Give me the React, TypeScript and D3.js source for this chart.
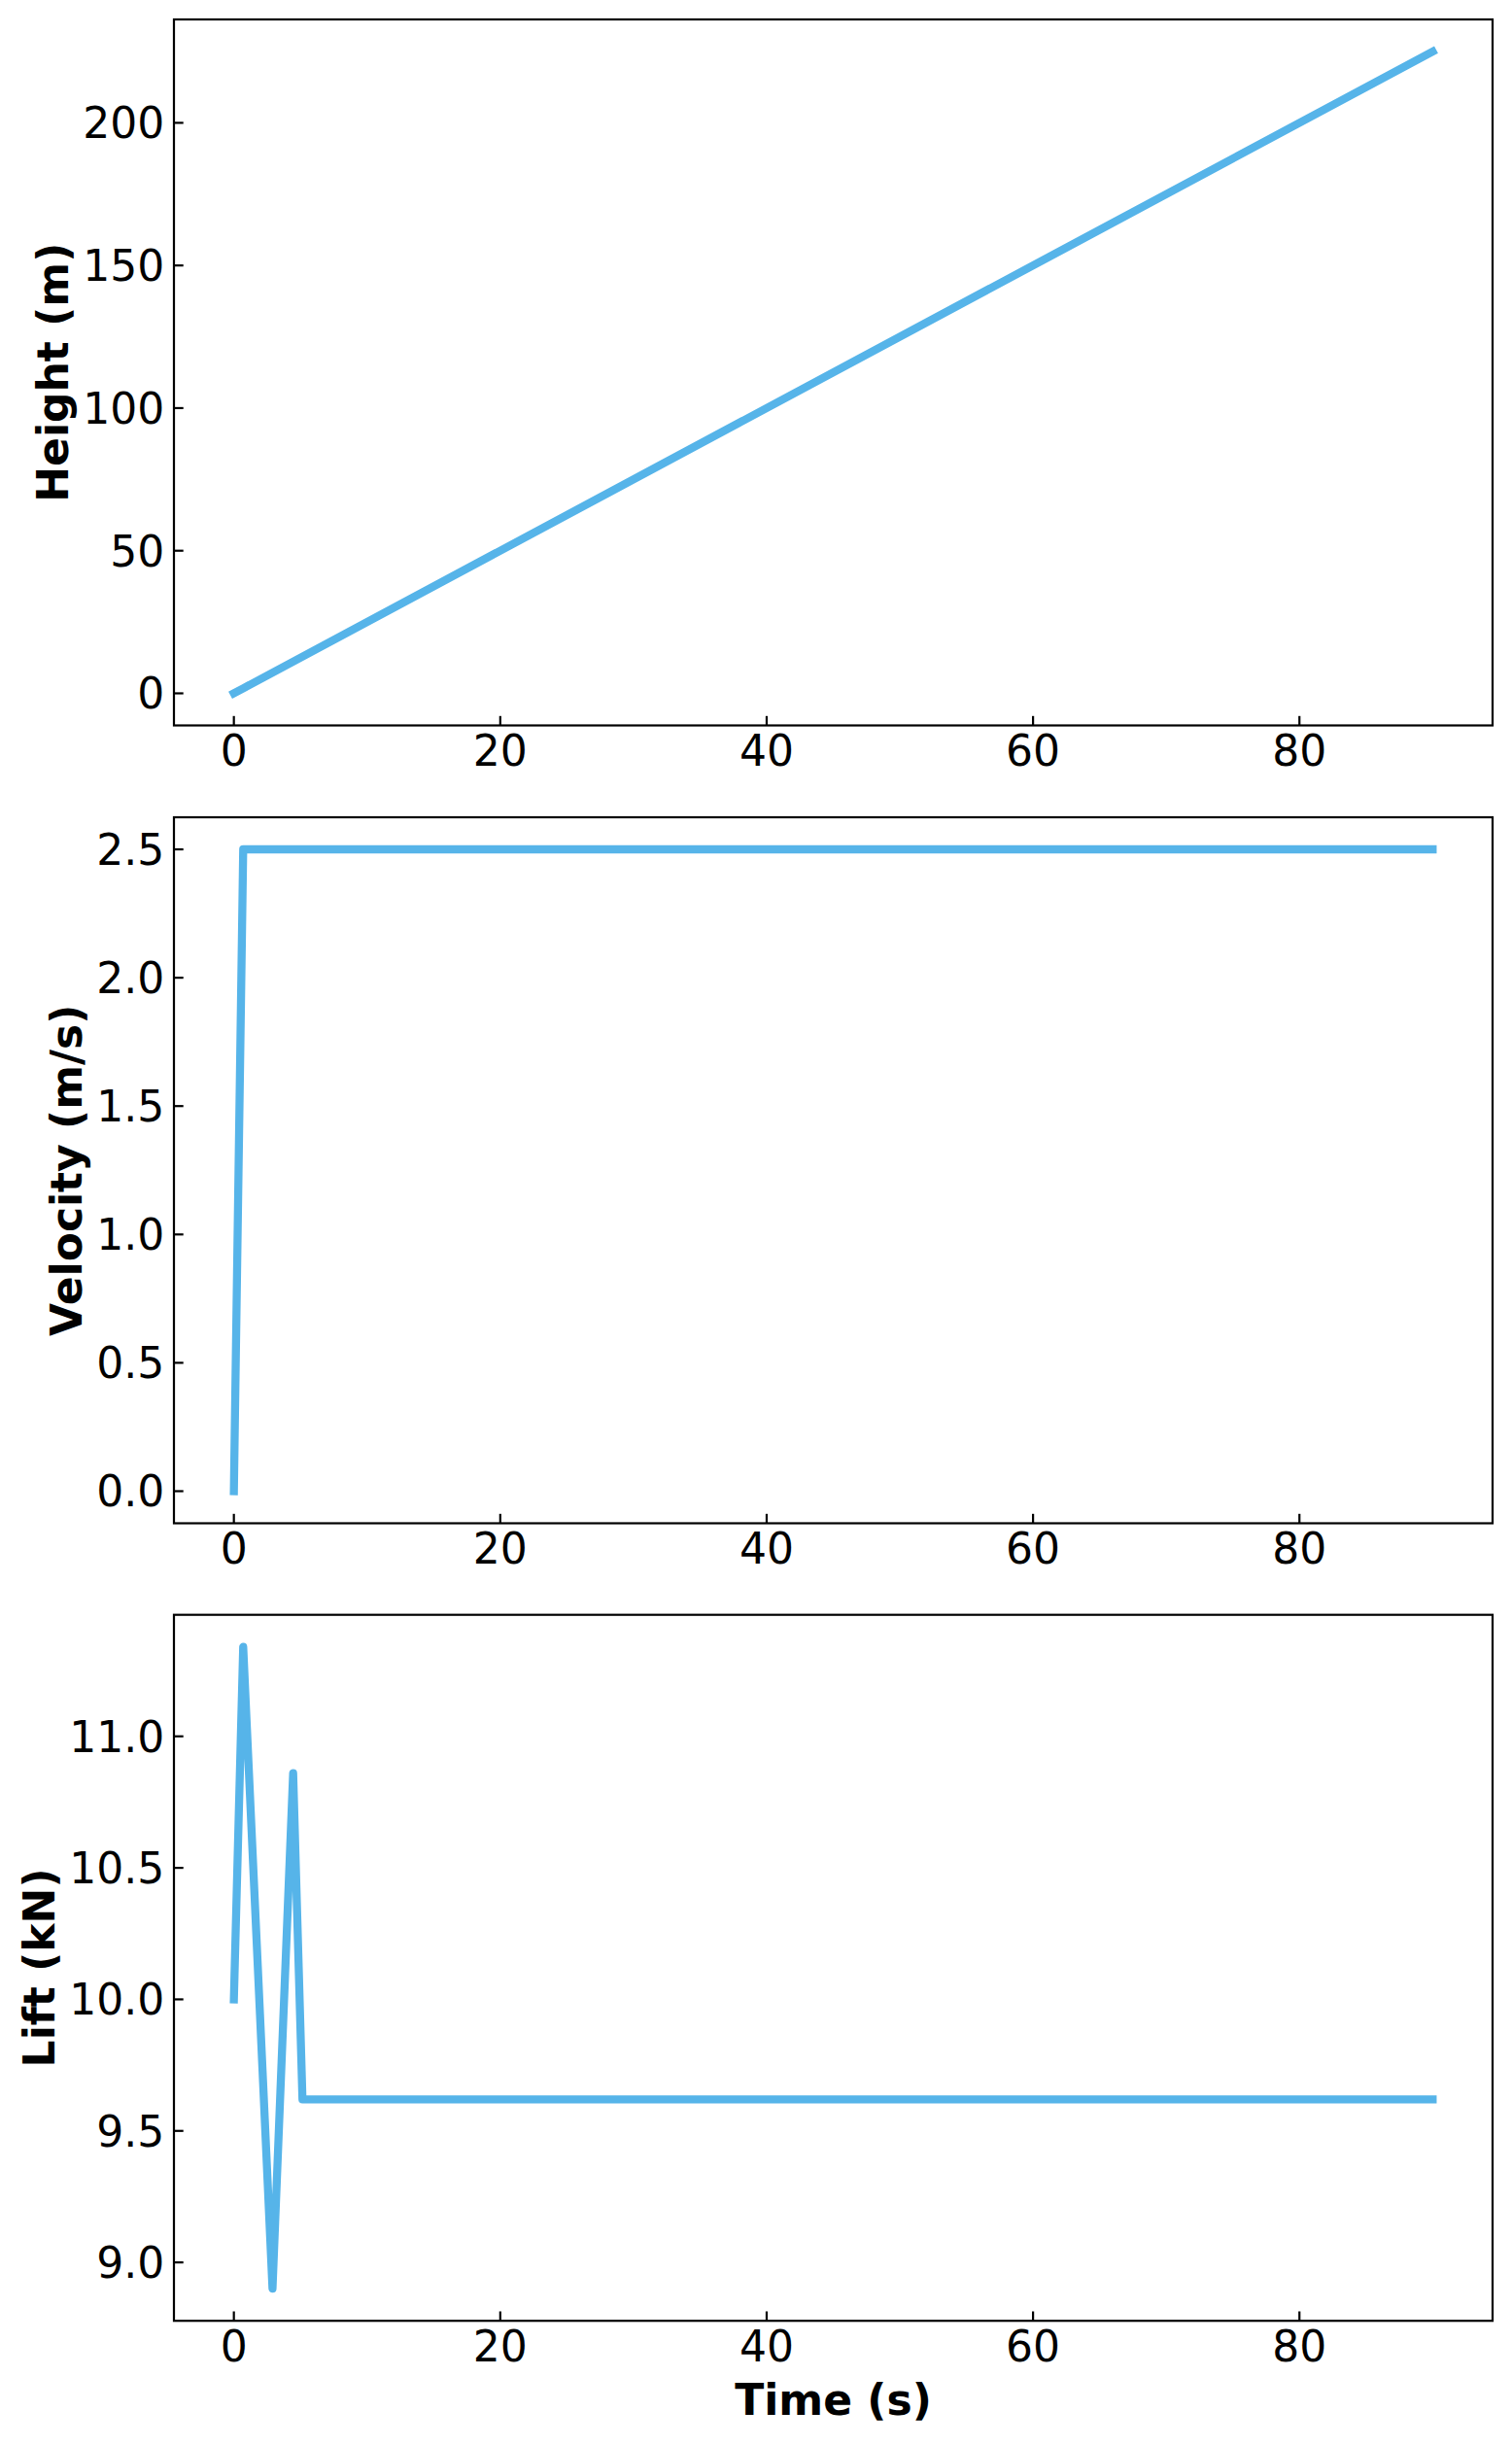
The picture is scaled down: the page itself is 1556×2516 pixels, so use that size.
import React from "react";
import * as d3 from "d3";

// ---- data ----
const heightTime = [0, 0.7, 90];
const heightValues = [0, 1.75, 225];

const velocityTime = [0, 0.7, 90];
const velocityValues = [0, 2.5, 2.5];

const liftTime = [0, 0.7, 2.9, 4.45, 5.15, 90];
const liftValues = [10.0, 11.34, 8.9, 10.86, 9.62, 9.62];

const xTicks = [0, 20, 40, 60, 80];
const heightTicks = [0, 50, 100, 150, 200];
const velocityTicks = [0, 0.5, 1.0, 1.5, 2.0, 2.5];
const liftTicks = [9.0, 9.5, 10.0, 10.5, 11.0];

const yLabels = ["Height (m)", "Velocity (m/s)", "Lift (kN)"];
const xLabel = "Time (s)";

// ---- layout ----
const W = 1556;
const H = 2516;
const LEFT = 179;
const RIGHT = 1536;
const TOPS = [20, 841, 1661.7];
const PH = 726.5;
const FONT = "'DejaVu Sans', Verdana, sans-serif";
const FS = 44;
const COLOR = "#56B4E9";
const TICK_LEN = 9.7;
const TICK_PAD = 9.7;

function measure(text: string, bold = false) {
  const c = document.createElement("canvas").getContext("2d")!;
  c.font = `${bold ? "bold " : ""}${FS}px 'DejaVu Sans'`;
  return c.measureText(text).width;
}

function extentPad(vals: number[]): [number, number] {
  const [lo, hi] = d3.extent(vals) as [number, number];
  const m = (hi - lo) * 0.05;
  return [lo - m, hi + m];
}

type Panel = {
  t: number[];
  v: number[];
  ticks: number[];
  fmt: (n: number) => string;
  label: string;
};

const panels: Panel[] = [
  { t: heightTime, v: heightValues, ticks: heightTicks, fmt: d3.format("d"), label: yLabels[0] },
  { t: velocityTime, v: velocityValues, ticks: velocityTicks, fmt: d3.format(".1f"), label: yLabels[1] },
  { t: liftTime, v: liftValues, ticks: liftTicks, fmt: d3.format(".1f"), label: yLabels[2] },
];

export default function App() {
  return (
    <svg
      width={W}
      height={H}
      style={{ position: "absolute", left: 0, top: 0, background: "#fff" }}
      fontFamily={FONT}
    >
      <rect x={0} y={0} width={W} height={H} fill="#fff" />
      {panels.map((p, i) => {
        const top = TOPS[i];
        const bottom = top + PH;
        const x = d3.scaleLinear().domain(extentPad(p.t)).range([LEFT, RIGHT]);
        const y = d3.scaleLinear().domain(extentPad(p.v)).range([bottom, top]);
        const line = d3
          .line<number>()
          .x((_, k) => x(p.t[k]))
          .y((d) => y(d));
        const labels = p.ticks.map(p.fmt);
        const maxW = Math.max(...labels.map((l) => measure(l)));
        const tickLeft = LEFT - TICK_PAD - maxW;
        const labelX = tickLeft - 15;
        const midY = (top + bottom) / 2;
        return (
          <g key={i}>
            <defs>
              <clipPath id={`clip${i}`}>
                <rect x={LEFT} y={top} width={RIGHT - LEFT} height={PH} />
              </clipPath>
            </defs>
            <path
              d={line(p.v) || ""}
              fill="none"
              stroke={COLOR}
              strokeWidth={8.3}
              strokeLinejoin="round"
              strokeLinecap="square"
              clipPath={`url(#clip${i})`}
            />
            <rect
              x={LEFT}
              y={top}
              width={RIGHT - LEFT}
              height={PH}
              fill="none"
              stroke="#000"
              strokeWidth={2.2}
            />
            {xTicks.map((t) => (
              <g key={`x${t}`}>
                <line x1={x(t)} x2={x(t)} y1={bottom} y2={bottom - TICK_LEN} stroke="#000" strokeWidth={2.2} />
                <text x={x(t)} y={bottom + 41.5} fontSize={FS} textAnchor="middle" fill="#000">
                  {t}
                </text>
              </g>
            ))}
            {p.ticks.map((t, k) => (
              <g key={`y${k}`}>
                <line x1={LEFT} x2={LEFT + TICK_LEN} y1={y(t)} y2={y(t)} stroke="#000" strokeWidth={2.2} />
                <text x={LEFT - TICK_PAD} y={y(t) + 16} fontSize={FS} textAnchor="end" fill="#000">
                  {labels[k]}
                </text>
              </g>
            ))}
            <text
              transform={`translate(${labelX},${midY}) rotate(-90)`}
              fontSize={FS}
              fontWeight="bold"
              textAnchor="middle"
              fill="#000"
            >
              {p.label}
            </text>
            {i === panels.length - 1 && (
              <text x={(LEFT + RIGHT) / 2} y={2485} fontSize={FS} fontWeight="bold" textAnchor="middle" fill="#000">
                {xLabel}
              </text>
            )}
          </g>
        );
      })}
    </svg>
  );
}
